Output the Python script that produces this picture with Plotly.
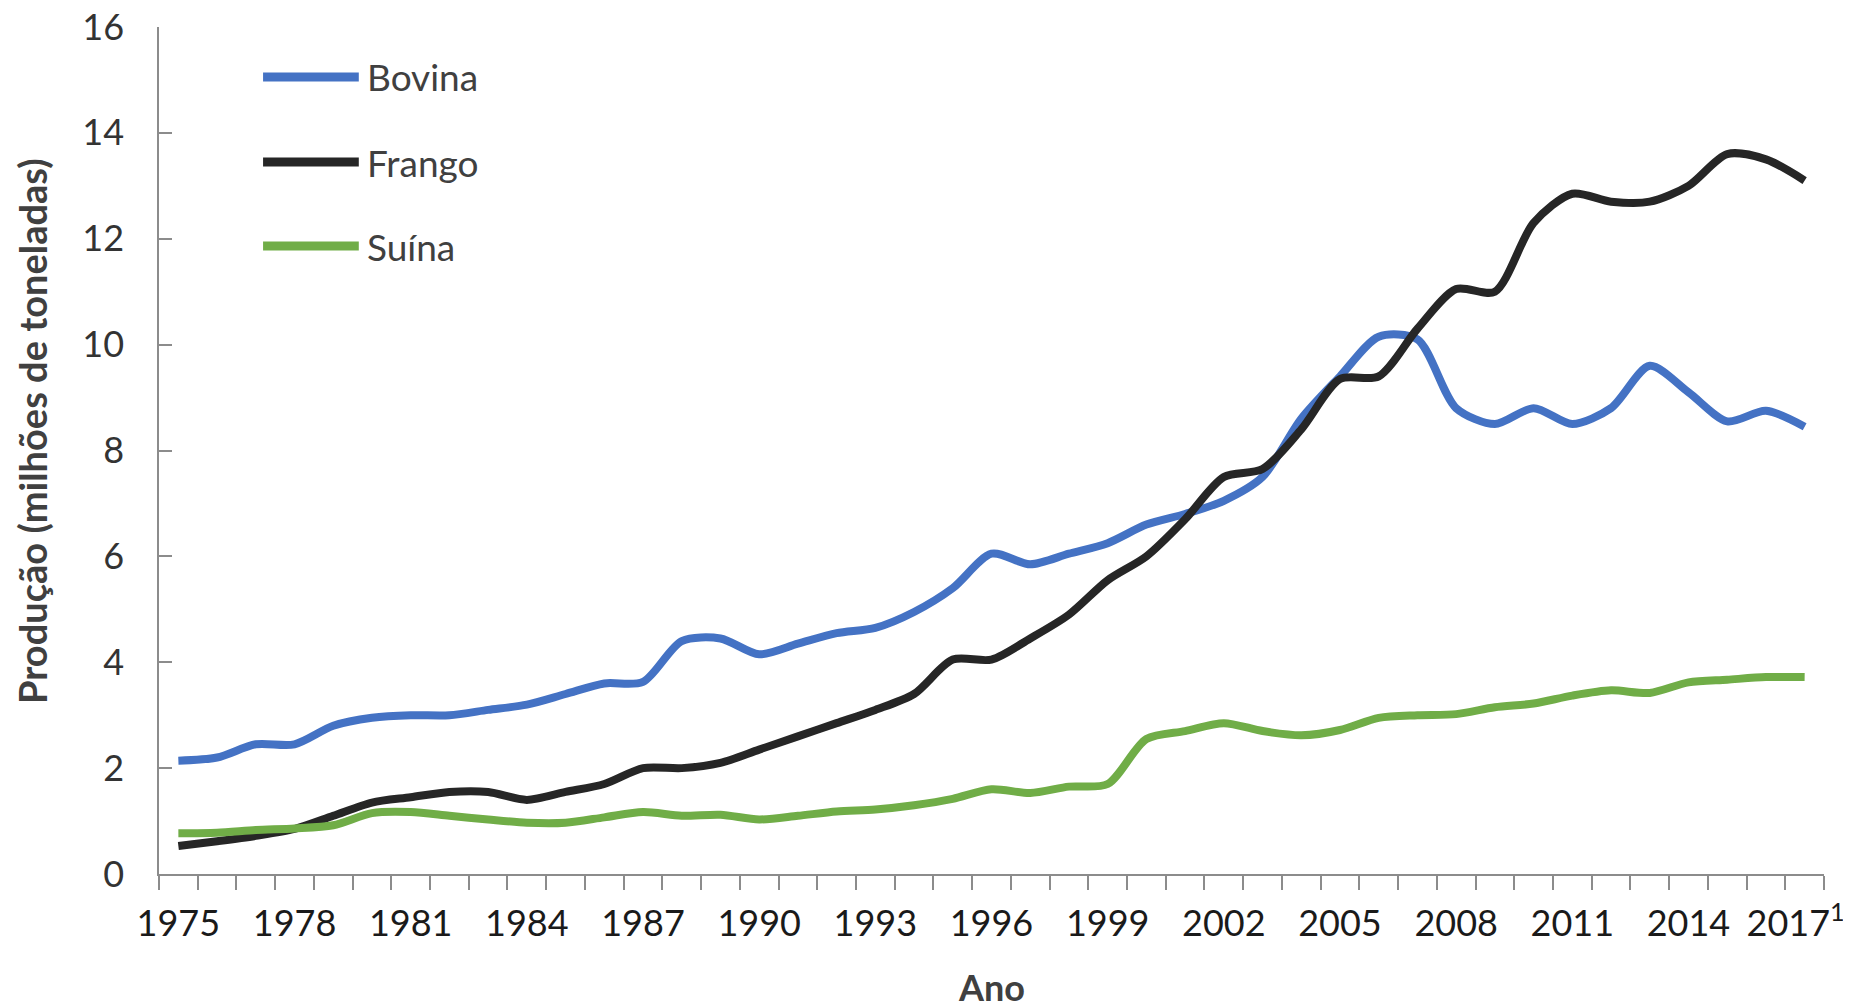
import plotly.graph_objects as go

years = list(range(1975, 2018))

bovina = [2.14, 2.2, 2.45, 2.45, 2.8, 2.95, 3.0, 3.0, 3.1, 3.2, 3.4, 3.6, 3.63, 4.4, 4.45,
          4.15, 4.35, 4.55, 4.65, 4.95, 5.4, 6.05, 5.85, 6.05, 6.25, 6.6, 6.8, 7.05, 7.5,
          8.6, 9.4, 10.15, 10.1, 8.8, 8.5, 8.8, 8.5, 8.8, 9.6, 9.1, 8.55, 8.75, 8.45]

frango = [0.53, 0.62, 0.72, 0.85, 1.1, 1.35, 1.45, 1.55, 1.55, 1.4, 1.55, 1.7, 2.0, 2.0, 2.1,
          2.35, 2.6, 2.85, 3.1, 3.4, 4.05, 4.05, 4.45, 4.9, 5.55, 6.0, 6.7, 7.5, 7.65,
          8.4, 9.35, 9.4, 10.3, 11.05, 11.0, 12.3, 12.85, 12.7, 12.7, 13.0, 13.6, 13.5, 13.1]

suina = [0.77, 0.78, 0.83, 0.86, 0.92, 1.15, 1.17, 1.1, 1.03, 0.97, 0.97, 1.07, 1.17, 1.1, 1.12,
         1.03, 1.1, 1.18, 1.22, 1.3, 1.42, 1.6, 1.53, 1.65, 1.7, 2.55, 2.7, 2.85, 2.7,
         2.62, 2.72, 2.95, 3.0, 3.02, 3.15, 3.22, 3.37, 3.47, 3.42, 3.62, 3.67, 3.72, 3.72]

series_names = ["Bovina", "Frango", "Suína"]
series_values = [bovina, frango, suina]
colors = ["#4472C4", "#262626", "#70AD47"]

tick_years = list(range(1975, 2018, 3))
tick_labels = [str(y) if y != 2017 else "2017<sup>1</sup>\u2002" for y in tick_years]
y_ticks = list(range(0, 17, 2))

FONT = "Lato"
AXIS_COLOR = "#8c8c8c"

fig = go.Figure()
for name, vals, col in zip(series_names, series_values, colors):
    fig.add_trace(go.Scatter(
        x=years, y=vals, mode="lines", name=name,
        line=dict(color=col, width=8, shape="spline", smoothing=0.8),
        showlegend=False,
    ))

# custom legend (long line samples like the original)
legend_y = [0.941, 0.8406, 0.7414]
for name, col, ly in zip(series_names, colors, legend_y):
    fig.add_shape(type="line", xref="paper", yref="paper",
                  x0=0.0625, x1=0.12, y0=ly, y1=ly,
                  line=dict(color=col, width=9))
    fig.add_annotation(xref="paper", yref="paper", x=0.1237, y=ly,
                       text=name, showarrow=False, xanchor="left", yanchor="middle",
                       font=dict(family=FONT, size=37, color="#404040"))

fig.add_annotation(xref="paper", yref="paper", x=-0.0763, y=0.523,
                   text="<b>Produção (milhões de toneladas)</b>", textangle=-90,
                   showarrow=False, xanchor="center", yanchor="middle",
                   font=dict(family=FONT, size=38, color="#404040"))
fig.add_annotation(xref="paper", yref="paper", x=0.5, y=-0.134,
                   text="<b>Ano</b>", showarrow=False, xanchor="center", yanchor="middle",
                   font=dict(family=FONT, size=36, color="#404040"))

# page body has an 8px default margin, so the figure is offset by 8px
fig.update_layout(
    width=1843, height=998,
    margin=dict(l=151, r=27, t=19, b=132),
    plot_bgcolor="white", paper_bgcolor="white",
    font=dict(family=FONT, color="#262626"),
    xaxis=dict(
        range=[1974.5, 2017.5], tickmode="array", tickvals=tick_years, ticktext=tick_labels,
        ticks="", showgrid=False, zeroline=False, automargin=False,
        showline=True, linecolor=AXIS_COLOR, linewidth=1.5,
        tickfont=dict(family=FONT, size=36, color="#1a1a1a"),
        ticklabelstandoff=17, ticklabeloverflow="allow",
        minor=dict(ticks="outside", tick0=1974.5, dtick=1, ticklen=14,
                   tickcolor=AXIS_COLOR, tickwidth=1.5, showgrid=False),
    ),
    yaxis=dict(
        range=[0, 16], tickmode="array", tickvals=y_ticks,
        ticks="inside", ticklen=13, tickcolor=AXIS_COLOR, tickwidth=1.5,
        showgrid=False, zeroline=False, automargin=False,
        showline=True, linecolor=AXIS_COLOR, linewidth=1.5,
        tickfont=dict(family=FONT, size=36, color="#333333"),
        ticklabelstandoff=26, ticklabeloverflow="allow",
    ),
)

fig.write_html("out.html")
